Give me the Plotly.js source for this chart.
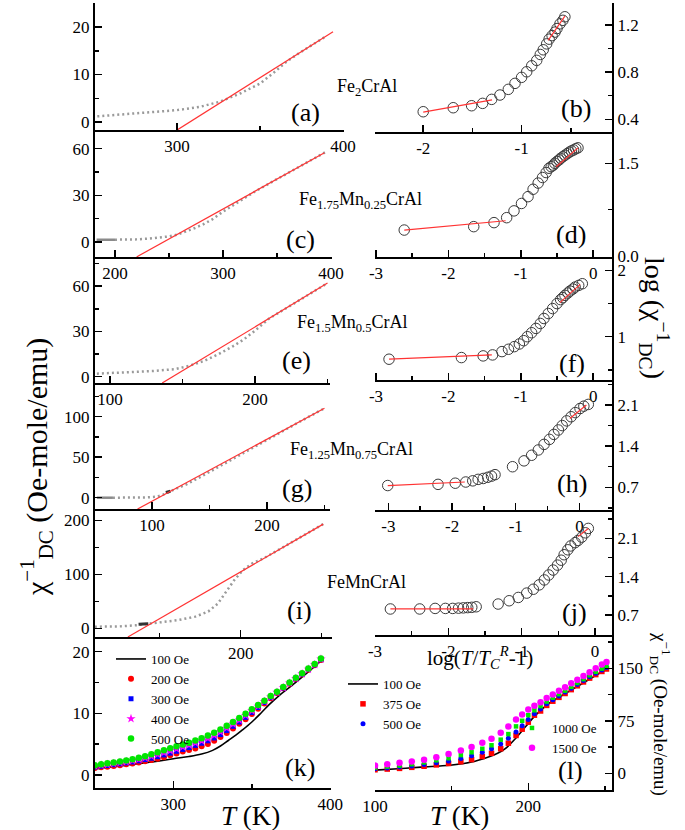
<!DOCTYPE html>
<html><head><meta charset="utf-8">
<script src="https://cdn.plot.ly/plotly-3.0.1.min.js"></script>
<style>html,body{margin:0;padding:0;background:#fff}#chart{width:685px;height:830px}</style>
</head><body><div id="chart"></div>
<script>
// ---------------- DATA ----------------
// (a) Fe2CrAl : inverse susceptibility vs T
const aT   = [252, 262, 274, 287, 300, 314, 326, 338, 350, 358, 366, 374, 382, 390];
const aChi = [1.2, 1.5, 1.8, 2.1, 2.5, 3.2, 4.3, 6.0, 8.1, 10.3, 12.7, 14.6, 16.4, 18.1];
const aFitT = [300, 394];
const aFitY = [-1.7, 19];
// (c) Fe1.75Mn0.25CrAl
const cT   = [200, 210, 220, 232, 242, 250, 258, 266, 274, 282, 290, 300, 315, 330, 350, 370, 385, 395];
const cChi = [1.5, 1.5, 1.7, 2.2, 3.0, 3.6, 4.8, 6.7, 9.0, 11.5, 14.5, 19.5, 26.2, 32.6, 40.4, 48.1, 53.9, 57.8];
const cDenseT = [183, 200];
const cDenseY = [1.5, 1.5];
const cFitT = [220, 394];
const cFitY = [-9.6, 57.4];
// (e) Fe1.5Mn0.5CrAl
const eT   = [91, 110, 130, 145, 155, 165, 175, 185, 192, 200, 210, 225, 240, 250];
const eChi = [2.0, 2.8, 3.8, 5.0, 7.3, 10.5, 15, 20.3, 24.5, 30.5, 38.7, 47.4, 56.2, 62];
const eFitT = [136, 250];
const eFitY = [-4.2, 62];
// (g) Fe1.25Mn0.75CrAl
const gT   = [66, 75, 85, 95, 104, 110, 116, 120, 130, 140, 150, 160, 170, 180, 190, 200, 215, 230, 250];
const gChi = [0, 0, 0.2, 0.4, 1.2, 4, 8, 10.5, 16.5, 24, 31.5, 39.5, 47.5, 55.5, 63.5, 72, 83.5, 95, 110.4];
const gDenseT = [52, 66];
const gDenseY = [0, 0];
const gBlobT = [112, 116];
const gBlobY = [6.5, 8];
const gFitT = [87.4, 250];
const gFitY = [-14, 110.4];
// (i) FeMnCrAl
const iT   = [110, 125, 135, 141, 150, 161, 172, 180, 186, 191, 196, 201.5, 207, 215, 230, 251];
const iChi = [3, 3.5, 5.5, 8, 11.5, 15, 21.6, 31, 46, 68, 89, 108, 120, 131, 157, 193];
const iBlobT = [137, 143];
const iBlobY = [7.5, 8.5];
const iFitT = [130.4, 251];
const iFitY = [-16, 193];

// (b) log plot Fe2CrAl
const bX = [-2.0,-1.695,-1.508,-1.396,-1.304,-1.22,-1.135,-1.067,-1.0,-0.948,-0.897,-0.846,-0.81,-0.78,-0.745,-0.72,-0.69,-0.66,-0.64,-0.61,-0.58,-0.56];
const bY = [0.464,0.498,0.515,0.535,0.569,0.606,0.654,0.705,0.756,0.803,0.854,0.9,0.95,0.99,1.04,1.08,1.11,1.14,1.17,1.21,1.24,1.27];
const bLowX = [-2.0, -1.3],  bLowY = [0.46, 0.565];
const bHighX = [-0.73, -0.56], bHighY = [1.07, 1.275];
// (d)
const dX = [-2.61,-1.65,-1.37,-1.195,-1.094,-0.99,-0.90,-0.83,-0.76,-0.70,-0.65,-0.61,-0.58,-0.55,-0.53,-0.50,-0.47,-0.45,-0.42,-0.39,-0.36,-0.33,-0.30,-0.27,-0.24,-0.21];
const dY = [0.42,0.475,0.54,0.62,0.73,0.85,0.96,1.08,1.18,1.27,1.35,1.42,1.445,1.47,1.50,1.53,1.555,1.58,1.605,1.63,1.655,1.68,1.70,1.715,1.735,1.75];
const dLowX = [-2.61, -1.21], dLowY = [0.42, 0.57];
const dHighX = [-0.51, -0.21], dHighY = [1.445, 1.75];
// (f)
const fX = [-2.82,-1.82,-1.52,-1.39,-1.26,-1.17,-1.09,-1.02,-0.96,-0.91,-0.85,-0.79,-0.73,-0.68,-0.62,-0.56,-0.50,-0.45,-0.42,-0.39,-0.35,-0.32,-0.28,-0.25,-0.20,-0.15];
const fY = [0.66,0.685,0.71,0.725,0.775,0.81,0.85,0.89,0.94,1.0,1.06,1.125,1.2,1.275,1.35,1.425,1.5,1.56,1.59,1.625,1.66,1.69,1.72,1.75,1.775,1.80];
const fLowX = [-2.82, -1.40], fLowY = [0.66, 0.725];
const fHighX = [-0.46, -0.18], fHighY = [1.515, 1.79];
// (h)
const hX = [-3.01,-2.22,-1.95,-1.785,-1.675,-1.59,-1.51,-1.44,-1.38,-1.325,-1.05,-0.87,-0.75,-0.645,-0.555,-0.47,-0.40,-0.33,-0.27,-0.20,-0.13,-0.065,0.01,0.07,0.14];
const hY = [0.73,0.75,0.77,0.79,0.81,0.835,0.85,0.87,0.89,0.915,1.05,1.15,1.245,1.335,1.43,1.515,1.60,1.675,1.75,1.83,1.90,1.97,2.04,2.08,2.11];
const hLowX = [-3.01, -1.80], hLowY = [0.73, 0.79];
const hHighX = [-0.15, 0.11], hHighY = [1.87, 2.1];
// (j)
const jX = [-2.79,-2.39,-2.18,-2.04,-1.94,-1.86,-1.795,-1.735,-1.68,-1.62,-1.32,-1.17,-1.045,-0.93,-0.84,-0.76,-0.69,-0.63,-0.57,-0.51,-0.46,-0.42,-0.37,-0.33,-0.27,-0.23,-0.18,-0.13,-0.09];
const jY = [0.81,0.81,0.82,0.82,0.82,0.825,0.83,0.835,0.84,0.85,0.90,0.96,1.02,1.10,1.17,1.25,1.34,1.43,1.52,1.61,1.70,1.80,1.89,1.96,2.02,2.06,2.12,2.2,2.28];
const jLowX = [-2.79, -1.66], jLowY = [0.81, 0.81];
const jHighX = [-0.23, -0.09], jHighY = [2.13, 2.28];

// (k) Fe2CrAl at different fields
const kT = [250,254,258,262,266,270,274,278,282,286,290,294,298,302,306,310,314,318,322,326,330,334,338,342,346,350,354,358,362,366,370,374,378,382,386,390,394];
const k200 = [1.15,1.25,1.35,1.47,1.6,1.73,1.88,2.05,2.23,2.43,2.65,2.9,3.2,3.5,3.8,4.05,4.3,4.65,5.05,5.55,6.15,6.8,7.55,8.3,9.05,9.9,10.75,11.6,12.45,13.3,14.05,14.8,15.55,16.3,17.05,17.8,18.65];
const k300 = [1.3,1.42,1.55,1.68,1.82,1.97,2.12,2.3,2.5,2.72,2.97,3.25,3.55,3.85,4.15,4.45,4.8,5.15,5.55,6.0,6.55,7.2,7.9,8.6,9.35,10.15,10.95,11.75,12.55,13.35,14.1,14.85,15.6,16.35,17.1,17.85,18.7];
const k400 = [1.45,1.6,1.72,1.85,2.0,2.15,2.35,2.55,2.8,3.05,3.35,3.65,3.95,4.25,4.55,4.85,5.2,5.55,5.95,6.45,7.0,7.6,8.25,8.9,9.65,10.4,11.15,11.9,12.65,13.4,14.15,14.9,15.65,16.4,17.15,17.9,18.8];
const k500 = [1.6,1.75,1.9,2.05,2.2,2.35,2.55,2.8,3.05,3.35,3.7,4.0,4.35,4.65,4.95,5.25,5.6,5.95,6.4,6.85,7.4,8.0,8.6,9.25,9.95,10.65,11.35,12.05,12.8,13.5,14.25,15.0,15.75,16.5,17.25,18.0,18.9];
const k100T = [250,260,270,280,290,300,310,318,325,330,335,340,344,350,356,361,367,375,385,394];
const k100Y = [1.0,1.3,1.6,1.9,2.25,2.65,3.0,3.4,4.0,4.7,5.6,6.5,7.3,8.6,10.1,11.4,12.8,14.4,16.5,18.5];

// (l) FeMnCrAl at different fields
const lT = [100,108,116,124,132,140,148,156,163,170,176,182,187,192,196,200,204,208,212,216,220,224,228,232,236,240,244,248,251];
const l375  = [5,6,7,8.5,10,12,14,16.5,19.5,24,28.5,35,43,54,63,73,83,89,97,103,108.5,114,119.5,125,130.5,136,141,145.5,149];
const l500  = [6.5,7.5,9,10.5,12.5,15,17.5,21,25,30,35,42,50,59,68,77,85,92,99.5,105,110.5,116,121.5,127,132.5,138,143,147.5,151];
const l1000 = [8,9.5,11,13,15.5,18.5,21.5,26,30,35,40,48,56,67,75,83,90,96,102.5,108,113,118,123.5,129,134.5,140,145,149.5,153];
const l1500 = [11,13,15,17,19.5,23,27.5,32.5,37.6,43.5,49.5,58,67,77,84,91,96.5,101.5,107.5,112.5,118,123,128.5,133.5,139,144.5,150,155.5,159];
const l100T = [100,115,130,149,163,174,180,185,191.5,198,204.6,213,224,235,245,251];
const l100Y = [4.5,6.5,8.8,11.4,16.1,23.3,28.5,35.2,49.4,66,82.8,99,113.7,128,141,149];

// tick labels
const logTickVals = [-3, -2, -1, 0];
const logTickText = ['-3', '-2', '-1', '0'];
const bTickVals = [-2, -1];
const bTickText = ['-2', '-1'];
const legendK = ['100 Oe', '200 Oe', '300 Oe', '400 Oe', '500 Oe'];
const legendL = ['100 Oe', '375 Oe', '500 Oe', '1000 Oe', '1500 Oe'];
const compounds = ['Fe<sub>2</sub>CrAl', 'Fe<sub>1.75</sub>Mn<sub>0.25</sub>CrAl', 'Fe<sub>1.5</sub>Mn<sub>0.5</sub>CrAl', 'Fe<sub>1.25</sub>Mn<sub>0.75</sub>CrAl', 'FeMnCrAl'];
const panelLetters = ['(a)','(b)','(c)','(d)','(e)','(f)','(g)','(h)','(i)','(j)','(k)','(l)'];

// ---------------- LAYOUT HELPERS ----------------
const W = 685, H = 830;
const FONT = 'Liberation Serif';
const fx = p => p / W;
const fy = p => 1 - p / H;

const axBase = {showline:true, linewidth:2, linecolor:'black', ticks:'inside', ticklen:7, tickwidth:1.5,
  tickcolor:'black', showgrid:false, zeroline:false, fixedrange:true,
  tickfont:{family:FONT, size:17, color:'black'}};
function minor(d){ return {ticks:'inside', ticklen:4, tickwidth:1.5, tickcolor:'black', tick0:0, dtick:d, showgrid:false}; }

// panel geometry (pixels) and axis settings
const panels = [
 {xd:[95,343.5], yd:[3,130],  xr:[250.6,400.3], yr:[-1.68,25.05], xt:{tick0:0,dtick:100}, xm:50, yt:{tick0:0,dtick:10}, ym:5, side:'left'},
 {xd:[375,612],  yd:[3,132],  xr:[-2.49,-0.081], yr:[0.292,1.387], xt:{tickmode:'array',tickvals:bTickVals,ticktext:bTickText}, xm:0.5, yt:{tick0:0,dtick:0.4,tickformat:'.1f'}, ym:0.2, side:'right'},
 {xd:[95,331.5], yd:[130,257], xr:[181.5,400.5], yr:[-9.64,72], xt:{tick0:0,dtick:100}, xm:50, yt:{tick0:0,dtick:30}, ym:15, side:'left'},
 {xd:[375,612],  yd:[132,257], xr:[-3.014,0.26], yr:[-0.016,2.006], xt:{tickmode:'array',tickvals:logTickVals,ticktext:logTickText}, xm:0.5, yt:{tick0:0,dtick:1.5,tickformat:'.1f'}, ym:0.75, side:'right'},
 {xd:[95,330],   yd:[257,383], xr:[89.7,251.7], yr:[-4.17,79.3], xt:{tick0:0,dtick:100}, xm:50, yt:{tick0:0,dtick:30}, ym:15, side:'left'},
 {xd:[375,612],  yd:[257,380], xr:[-3.014,0.26], yr:[0.346,2.204], xt:{tickmode:'array',tickvals:logTickVals,ticktext:logTickText}, xm:0.5, yt:{tick0:0,dtick:1}, ym:0.5, side:'right'},
 {xd:[95,330],   yd:[383,509], xr:[50.4,254.8], yr:[-13.95,141.6], xt:{tick0:0,dtick:100}, xm:50, yt:{tick0:0,dtick:50}, ym:25, side:'left'},
 {xd:[375,612],  yd:[380,510], xr:[-3.21,0.512], yr:[0.314,2.525], xt:{tickmode:'array',tickvals:logTickVals,ticktext:logTickText}, xm:0.5, yt:{tick0:0,dtick:0.7,tickformat:'.1f'}, ym:0.35, side:'right'},
 {xd:[95,332],   yd:[509,637], xr:[110.1,256.4], yr:[-16.1,221], xt:{tick0:0,dtick:100}, xm:50, yt:{tick0:0,dtick:100}, ym:50, side:'left'},
 {xd:[375,612],  yd:[510,635], xr:[-3.0,0.233], yr:[0.335,2.616], xt:{tickmode:'array',tickvals:logTickVals,ticktext:logTickText}, xm:0.5, yt:{tick0:0,dtick:0.7,tickformat:'.1f'}, ym:0.35, side:'right'},
 {xd:[95,331],   yd:[637,788], xr:[250.1,400.4], yr:[-2.1,22.37], xt:{tick0:0,dtick:100}, xm:50, yt:{tick0:0,dtick:10}, ym:5, side:'left'},
 {xd:[375,612],  yd:[635,790], xr:[100,254.6], yr:[-23.9,197.6], xt:{tick0:0,dtick:100}, xm:50, yt:{tick0:0,dtick:75}, ym:37.5, side:'right'}
];

const legStyle = {xanchor:'left', yanchor:'top', bgcolor:'rgba(0,0,0,0)', borderwidth:0,
  font:{family:FONT, size:13, color:'black'}, tracegroupgap:0};
const layout = {
  width:W, height:H, margin:{l:0,r:0,t:0,b:0}, paper_bgcolor:'#fff', plot_bgcolor:'rgba(0,0,0,0)',
  font:{family:FONT, color:'black'}, annotations:[],
  legend:Object.assign({x:fx(111), y:fy(644)}, legStyle),
  legend2:Object.assign({x:fx(343), y:fy(669)}, legStyle),
  legend3:Object.assign({x:fx(512), y:fy(713)}, legStyle)
};

panels.forEach((p, k) => {
  const n = k === 0 ? '' : String(k + 1);
  layout['xaxis' + n] = Object.assign({}, axBase, p.xt, {
    domain:[fx(p.xd[0]), fx(p.xd[1])], range:p.xr, anchor:'y' + n, minor:minor(p.xm)});
  layout['yaxis' + n] = Object.assign({}, axBase, p.yt, {
    domain:[fy(p.yd[1]), fy(p.yd[0])], range:p.yr, anchor:'x' + n, side:p.side, minor:minor(p.ym)});
});

// ---------------- TRACES ----------------
const traces = [];
function add(x, y, n, style){ traces.push(Object.assign({x:x, y:y, xaxis:'x'+n, yaxis:'y'+n, hoverinfo:'skip', showlegend:false}, style)); }
const gray  = {mode:'lines', line:{color:'#9a9a9a', width:2.5, dash:'2px,3px'}};
const dense = {mode:'lines', line:{color:'#8a8a8a', width:2.5}};
const blob  = {mode:'lines', line:{color:'#333', width:3}};
const fit   = {mode:'lines', line:{color:'#ff3333', width:1.2}};
const circ  = {mode:'markers', marker:{symbol:'circle-open', size:10.5, color:'#3a3a3a', line:{width:1, color:'#3a3a3a'}}};

// left panels
add(aT, aChi, '', gray);  add(aFitT, aFitY, '', fit);
add(cDenseT, cDenseY, '3', dense); add(cT, cChi, '3', gray); add(cFitT, cFitY, '3', fit);
add(eT, eChi, '5', gray); add(eFitT, eFitY, '5', fit);
add(gDenseT, gDenseY, '7', dense); add(gT, gChi, '7', gray); add(gBlobT, gBlobY, '7', blob); add(gFitT, gFitY, '7', fit);
add(iT, iChi, '9', gray); add(iBlobT, iBlobY, '9', blob); add(iFitT, iFitY, '9', fit);
// right log panels
add(bX, bY, '2', circ); add(bLowX, bLowY, '2', fit); add(bHighX, bHighY, '2', fit);
add(dX, dY, '4', circ); add(dLowX, dLowY, '4', fit); add(dHighX, dHighY, '4', fit);
add(fX, fY, '6', circ); add(fLowX, fLowY, '6', fit); add(fHighX, fHighY, '6', fit);
add(hX, hY, '8', circ); add(hLowX, hLowY, '8', fit); add(hHighX, hHighY, '8', fit);
add(jX, jY, '10', circ); add(jLowX, jLowY, '10', fit); add(jHighX, jHighY, '10', fit);

function legTrace(x, y, n, name, leg, style){
  traces.push(Object.assign({x:x, y:y, xaxis:'x'+n, yaxis:'y'+n, hoverinfo:'skip', name:name, showlegend:true, legend:leg}, style));
}
// (k)
legTrace(k100T, k100Y, '11', legendK[0], 'legend', {mode:'lines', line:{color:'black', width:1.6, shape:'spline'}});
legTrace(kT, k200, '11', legendK[1], 'legend', {mode:'markers', marker:{symbol:'circle', size:6, color:'#ff0000'}});
legTrace(kT, k300, '11', legendK[2], 'legend', {mode:'markers', marker:{symbol:'square', size:5, color:'#0000ff'}});
legTrace(kT, k400, '11', legendK[3], 'legend', {mode:'markers', marker:{symbol:'star', size:7, color:'#ff00ff'}});
legTrace(kT, k500, '11', legendK[4], 'legend', {mode:'markers', marker:{symbol:'circle', size:6.5, color:'#00e600'}});
// (l)
legTrace(l100T, l100Y, '12', legendL[0], 'legend2', {mode:'lines', line:{color:'black', width:1.6, shape:'spline'}});
legTrace(lT, l375, '12', legendL[1], 'legend2', {mode:'markers', marker:{symbol:'square', size:5.5, color:'#ff0000'}});
legTrace(lT, l500, '12', legendL[2], 'legend2', {mode:'markers', marker:{symbol:'circle', size:5, color:'#0000ff'}});
legTrace(lT, l1000, '12', legendL[3], 'legend3', {mode:'markers', marker:{symbol:'square', size:4.5, color:'#00e600'}});
legTrace(lT, l1500, '12', legendL[4], 'legend3', {mode:'markers', marker:{symbol:'circle', size:6.5, color:'#ff00ff'}});

// ---------------- ANNOTATIONS ----------------
function ann(text, x, y, size, extra){
  layout.annotations.push(Object.assign({text:text, x:fx(x), y:fy(y), xref:'paper', yref:'paper', showarrow:false,
    xanchor:'center', yanchor:'middle', font:{family:FONT, size:size, color:'black'}}, extra || {}));
}
const letterPos = [[305,113],[576,108],[300,239],[571,235],[296,360],[572,363],[297,488],[572,483],[299,610],[574,612],[300,767],[570,770]];
panelLetters.forEach((t, k) => ann(t, letterPos[k][0], letterPos[k][1], 26));
const compPos = [[335,88],[297,200],[295,323],[288,450],[325,582]];
compounds.forEach((t, k) => ann(t, compPos[k][0], compPos[k][1], 18, {xanchor:'left'}));

ann('χ<sup>−1</sup><sub>DC</sub> (Oe-mole/emu)', 36, 467, 30, {textangle:-90});
ann('log (χ<sup>−1</sup><sub>DC</sub>)', 655, 318, 28, {textangle:90});
ann('χ<sup>−1</sup><sub>DC</sub> (Oe-mole/emu)', 661, 714, 19, {textangle:90});
ann('<i>T</i> (K)', 250, 816, 27);
ann('<i>T</i> (K)', 459, 816, 27);
ann('log(<i>T</i>/<i>T</i><sub><i>C</i></sub><sup><i>R</i></sup>-1)', 480, 657, 21);

Plotly.newPlot('chart', traces, layout, {staticPlot:true, displayModeBar:false});
</script>
</body></html>
